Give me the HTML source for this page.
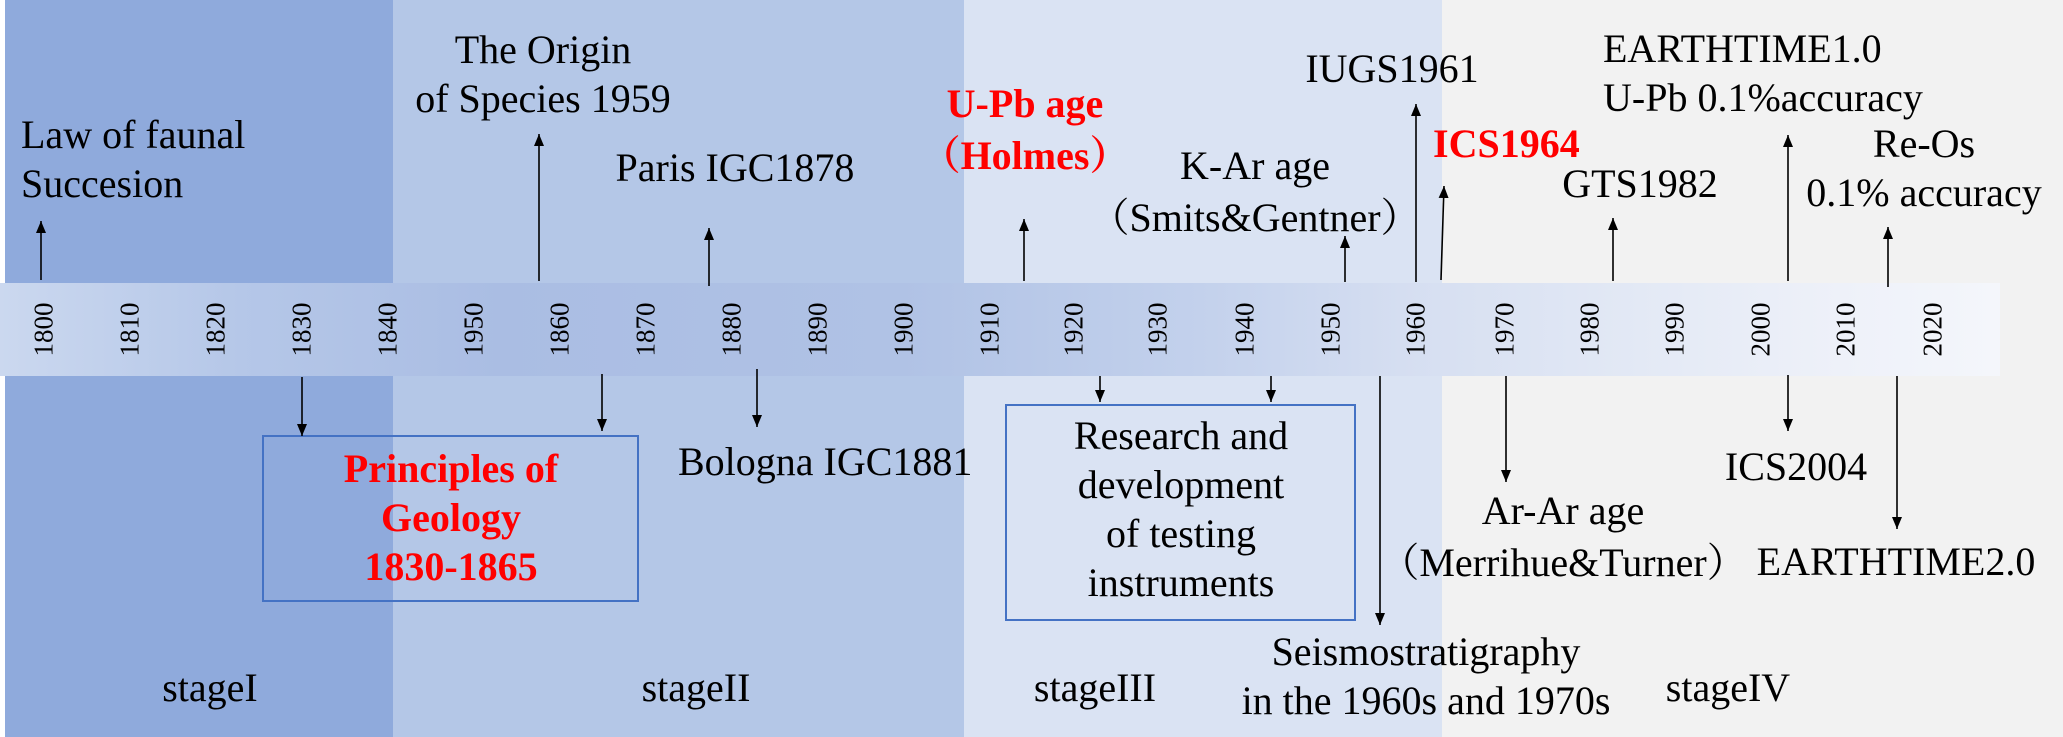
<!DOCTYPE html>
<html><head><meta charset="utf-8"><style>
body{margin:0}
#c{position:relative;width:2063px;height:737px;overflow:hidden;background:#f2f2f2;font-family:'Liberation Serif','Times New Roman',Times,serif;color:#000}
.bg{position:absolute;top:0;height:737px}
.t{position:absolute;font-size:40px;line-height:49px;white-space:nowrap;font-family:'Liberation Serif','Times New Roman',Times,serif}
.c{width:600px;text-align:center}
.r{color:#ff0000;font-weight:bold}
.j{font-family:'Noto Serif CJK SC','Noto Sans CJK SC',serif}
.tk{position:absolute;font-size:27px;line-height:27px;width:60px;text-align:center;transform:rotate(-90deg);top:316px;font-family:'Liberation Serif','Times New Roman',Times,serif}
.box{position:absolute;border:2px solid #4472c4;box-sizing:border-box}
</style></head><body><div id="c">
<div class="bg" style="left:0;width:5px;background:#fff"></div>
<div class="bg" style="left:5px;width:388px;background:#8faadc"></div>
<div class="bg" style="left:393px;width:571px;background:#b4c7e7"></div>
<div class="bg" style="left:964px;width:478px;background:#dae3f3"></div>
<div style="position:absolute;left:0;top:283px;width:2000px;height:93px;background:linear-gradient(to right,#cbd8ef 0%,#b5c7e8 12%,#aabde3 25%,#b0c2e5 45%,#c3d1ec 60%,#d5def1 70%,#e3e9f5 82%,#eef1f9 92%,#f4f6fb 100%)"></div>

<div class="tk" style="left:14px">1800</div>
<div class="tk" style="left:100px">1810</div>
<div class="tk" style="left:186px">1820</div>
<div class="tk" style="left:272px">1830</div>
<div class="tk" style="left:358px">1840</div>
<div class="tk" style="left:444px">1950</div>
<div class="tk" style="left:530px">1860</div>
<div class="tk" style="left:616px">1870</div>
<div class="tk" style="left:702px">1880</div>
<div class="tk" style="left:788px">1890</div>
<div class="tk" style="left:874px">1900</div>
<div class="tk" style="left:960px">1910</div>
<div class="tk" style="left:1044px">1920</div>
<div class="tk" style="left:1128px">1930</div>
<div class="tk" style="left:1215px">1940</div>
<div class="tk" style="left:1301px">1950</div>
<div class="tk" style="left:1386px">1960</div>
<div class="tk" style="left:1475px">1970</div>
<div class="tk" style="left:1560px">1980</div>
<div class="tk" style="left:1645px">1990</div>
<div class="tk" style="left:1731px">2000</div>
<div class="tk" style="left:1816px">2010</div>
<div class="tk" style="left:1903px">2020</div>

<div class="box" style="left:262px;top:435px;width:377px;height:167px"></div>
<div class="box" style="left:1005px;top:404px;width:351px;height:217px"></div>

<svg style="position:absolute;left:0;top:0" width="2063" height="737">
<defs><marker id="a" markerUnits="userSpaceOnUse" markerWidth="12" markerHeight="10" refX="12" refY="5" orient="auto"><path d="M0,0L12,5L0,10z" fill="#000"/></marker></defs>
<g stroke="#000" stroke-width="1.6" marker-end="url(#a)">
<line x1="41" y1="280" x2="41" y2="221"/>
<line x1="539" y1="281" x2="539" y2="134"/>
<line x1="709" y1="286" x2="709" y2="228"/>
<line x1="1024" y1="281" x2="1024" y2="219"/>
<line x1="1345" y1="282" x2="1345" y2="236"/>
<line x1="1416" y1="282" x2="1416" y2="104"/>
<line x1="1441" y1="280" x2="1444" y2="186"/>
<line x1="1613" y1="281" x2="1613" y2="218"/>
<line x1="1788" y1="281" x2="1788" y2="135"/>
<line x1="1888" y1="287" x2="1888" y2="227"/>
<line x1="302" y1="377" x2="302" y2="436"/>
<line x1="602" y1="374" x2="602" y2="431"/>
<line x1="757" y1="369" x2="757" y2="427"/>
<line x1="1100" y1="376" x2="1100" y2="402"/>
<line x1="1271" y1="376" x2="1271" y2="402"/>
<line x1="1380" y1="376" x2="1380" y2="625"/>
<line x1="1506" y1="376" x2="1506" y2="482"/>
<line x1="1788" y1="375" x2="1788" y2="431"/>
<line x1="1897" y1="376" x2="1897" y2="529"/>
</g></svg>

<div class="t" style="left:21px;top:110px">Law of faunal<br>Succesion</div>
<div class="t c" style="left:243px;top:25px">The Origin<br>of Species 1959</div>
<div class="t c" style="left:435px;top:143px">Paris IGC1878</div>
<div class="t c r" style="left:725px;top:79px">U-Pb age<br><span class="j">（</span>Holmes<span class="j">）</span></div>
<div class="t c" style="left:955px;top:141px">K-Ar age<br><span class="j">（</span>Smits&amp;Gentner<span class="j">）</span></div>
<div class="t c" style="left:1092px;top:44px">IUGS1961</div>
<div class="t r" style="left:1433px;top:119px">ICS1964</div>
<div class="t c" style="left:1340px;top:159px">GTS1982</div>
<div class="t" style="left:1603px;top:24px">EARTHTIME1.0<br>U-Pb 0.1%accuracy</div>
<div class="t c" style="left:1624px;top:119px">Re-Os<br>0.1% accuracy</div>
<div class="t c r" style="left:151px;top:444px">Principles of<br>Geology<br>1830-1865</div>
<div class="t" style="left:678px;top:437px">Bologna IGC1881</div>
<div class="t c" style="left:881px;top:411px">Research and<br>development<br>of testing<br>instruments</div>
<div class="t c" style="left:1263px;top:486px">Ar-Ar age<br><span class="j">（</span>Merrihue&amp;Turner<span class="j">）</span></div>
<div class="t c" style="left:1496px;top:442px">ICS2004</div>
<div class="t c" style="left:1596px;top:537px">EARTHTIME2.0</div>
<div class="t c" style="left:1126px;top:627px">Seismostratigraphy<br>in the 1960s and 1970s</div>
<div class="t c" style="left:-90px;top:663px">stageI</div>
<div class="t c" style="left:396px;top:663px">stageII</div>
<div class="t c" style="left:795px;top:663px">stageIII</div>
<div class="t c" style="left:1428px;top:663px">stageIV</div>
</div></body></html>
